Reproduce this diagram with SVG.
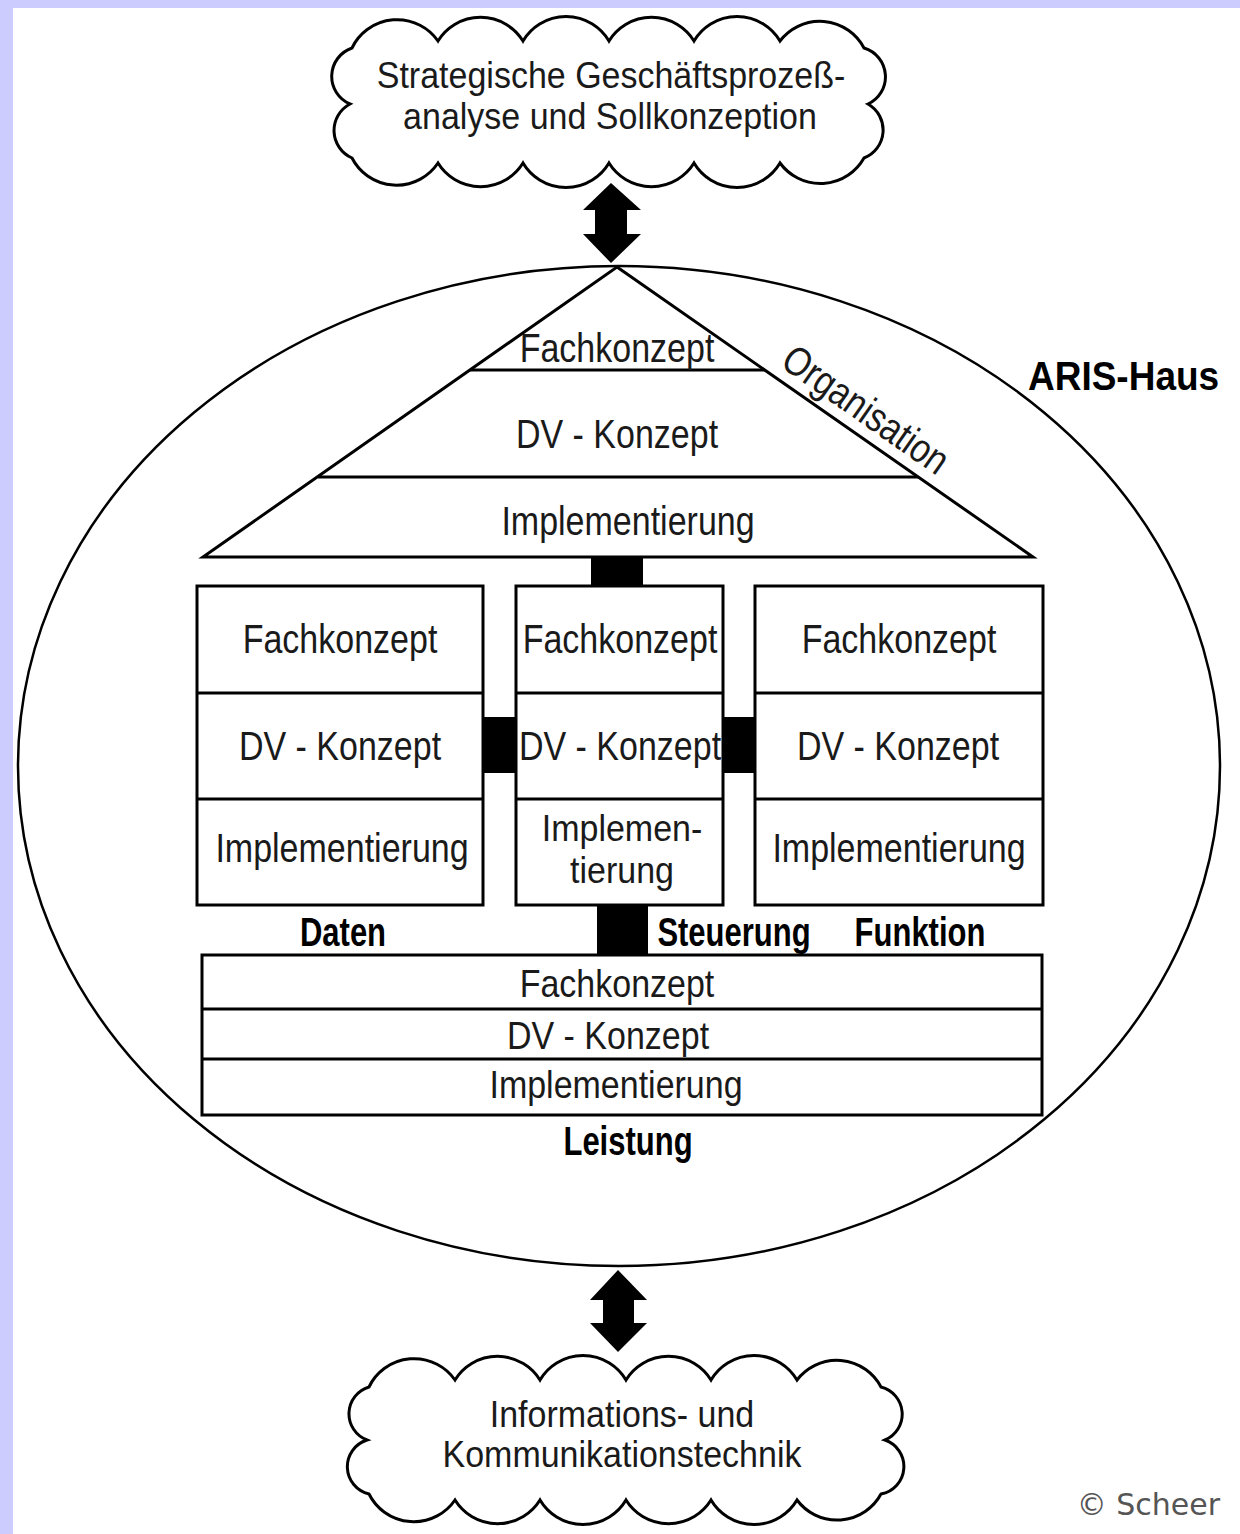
<svg xmlns="http://www.w3.org/2000/svg" width="1240" height="1534" viewBox="0 0 1240 1534">
<style>
.ln{fill:#fff;stroke:#000;stroke-width:3}
.dv{stroke:#000;stroke-width:3;fill:none}
.blk{fill:#000}
.t{font-family:"Liberation Sans",Arial,sans-serif;font-size:34px;fill:#1a1a1a;text-anchor:middle}
.b{font-family:"Liberation Sans",Arial,sans-serif;font-size:31px;font-weight:bold;fill:#000;text-anchor:middle}
</style>
<rect x="0" y="0" width="1240" height="1534" fill="#ccccff"/>
<rect x="13" y="8" width="1227" height="1526" fill="#fff"/>

<g id="connectors">
<polygon class="blk" points="611,183 641,210 627,210 627,234 641,234 611,263 583,234 595,234 595,210 583,210"/>
<polygon class="blk" points="618,1270 647,1300 634,1300 634,1323 647,1323 618,1352 590,1323 603,1323 603,1300 590,1300"/>
<rect class="blk" x="591" y="557" width="52" height="29"/>
<rect class="blk" x="483" y="717" width="33" height="56"/>
<rect class="blk" x="723" y="717" width="32" height="56"/>
<rect class="blk" x="597" y="905" width="51" height="50"/>
</g>

<g id="cloud-top">
<path class="ln" d="M352 48 A50 50 0 0 1 438 41 A50 50 0 0 1 523 41 A50 50 0 0 1 609 41 A50 50 0 0 1 694 41 A50 50 0 0 1 780 41 A50 50 0 0 1 864 48 A30 30 0 0 1 868 104 A30 30 0 0 1 864 158 A50 50 0 0 1 780 163 A50 50 0 0 1 694 163 A50 50 0 0 1 609 163 A50 50 0 0 1 523 163 A50 50 0 0 1 438 163 A50 50 0 0 1 352 158 A30 30 0 0 1 350 104 A30 30 0 0 1 352 48 Z"/>
<text class="t" transform="translate(611,88) scale(1,1.08)">Strategische Geschäftsprozeß-</text>
<text class="t" transform="translate(610,129) scale(1,1.08)">analyse und Sollkonzeption</text>
</g>

<g id="aris-haus">
<ellipse cx="619" cy="766" rx="601" ry="500" fill="none" stroke="#000" stroke-width="2.5"/>
<text font-family="'Liberation Sans',Arial,sans-serif" font-size="37" font-weight="bold" fill="#000" transform="translate(1028,390) scale(1,1.1)">ARIS-Haus</text>
</g>

<g id="organisation">
<polygon class="ln" points="617,267 1033,557 203,557"/>
<line class="dv" x1="470" y1="370" x2="765" y2="370"/>
<line class="dv" x1="318" y1="477" x2="918" y2="477"/>
<text class="t" transform="translate(617,362) scale(1,1.2)">Fachkonzept</text>
<text class="t" transform="translate(617,448) scale(1,1.2)">DV - Konzept</text>
<text class="t" transform="translate(628,535) scale(1,1.2)">Implementierung</text>
<text class="t" font-size="30" transform="translate(858,421) rotate(34.9) scale(1,1.2)">Organisation</text>
</g>

<g id="daten">
<rect class="ln" x="197" y="586" width="286" height="319"/>
<line class="dv" x1="197" y1="693" x2="483" y2="693"/>
<line class="dv" x1="197" y1="799" x2="483" y2="799"/>
<text class="t" transform="translate(340,653) scale(1,1.2)">Fachkonzept</text>
<text class="t" transform="translate(340,760) scale(1,1.2)">DV - Konzept</text>
<text class="t" transform="translate(342,862) scale(1,1.2)">Implementierung</text>
<text class="b" transform="translate(343,946) scale(1,1.3)">Daten</text>
</g>

<g id="steuerung">
<rect class="ln" x="516" y="586" width="207" height="319"/>
<line class="dv" x1="516" y1="693" x2="723" y2="693"/>
<line class="dv" x1="516" y1="799" x2="723" y2="799"/>
<text class="t" transform="translate(620,653) scale(1,1.2)">Fachkonzept</text>
<text class="t" transform="translate(620,760) scale(1,1.2)">DV - Konzept</text>
<text class="t" transform="translate(622,841) scale(1,1.08)">Implemen-</text>
<text class="t" transform="translate(622,883) scale(1,1.08)">tierung</text>
<text class="b" transform="translate(734,946) scale(1,1.3)">Steuerung</text>
</g>

<g id="funktion">
<rect class="ln" x="755" y="586" width="288" height="319"/>
<line class="dv" x1="755" y1="693" x2="1043" y2="693"/>
<line class="dv" x1="755" y1="799" x2="1043" y2="799"/>
<text class="t" transform="translate(899,653) scale(1,1.2)">Fachkonzept</text>
<text class="t" transform="translate(898,760) scale(1,1.2)">DV - Konzept</text>
<text class="t" transform="translate(899,862) scale(1,1.2)">Implementierung</text>
<text class="b" transform="translate(920,946) scale(1,1.3)">Funktion</text>
</g>

<g id="leistung">
<rect class="ln" x="202" y="955" width="840" height="160"/>
<line class="dv" x1="202" y1="1009" x2="1042" y2="1009"/>
<line class="dv" x1="202" y1="1059" x2="1042" y2="1059"/>
<text class="t" transform="translate(617,997) scale(1,1.15)">Fachkonzept</text>
<text class="t" transform="translate(608,1049) scale(1,1.15)">DV - Konzept</text>
<text class="t" transform="translate(616,1098) scale(1,1.15)">Implementierung</text>
<text class="b" transform="translate(628,1155) scale(1,1.3)">Leistung</text>
</g>

<g id="cloud-bottom">
<path class="ln" d="M369 1387 A50 50 0 0 1 455 1380 A50 50 0 0 1 540 1380 A50 50 0 0 1 626 1380 A50 50 0 0 1 711 1380 A50 50 0 0 1 797 1380 A50 50 0 0 1 881 1387 A28 28 0 0 1 885 1440 A28 28 0 0 1 881 1494 A50 50 0 0 1 797 1500 A50 50 0 0 1 711 1500 A50 50 0 0 1 626 1500 A50 50 0 0 1 540 1500 A50 50 0 0 1 455 1500 A50 50 0 0 1 369 1494 A28 28 0 0 1 367 1440 A28 28 0 0 1 369 1387 Z"/>
<text class="t" transform="translate(622,1427) scale(1,1.08)">Informations- und</text>
<text class="t" transform="translate(622,1467) scale(1,1.08)">Kommunikationstechnik</text>
</g>

<text x="1220" y="1515" font-family="'DejaVu Sans',Verdana,sans-serif" font-size="30" fill="#555" text-anchor="end">© Scheer</text>
</svg>
